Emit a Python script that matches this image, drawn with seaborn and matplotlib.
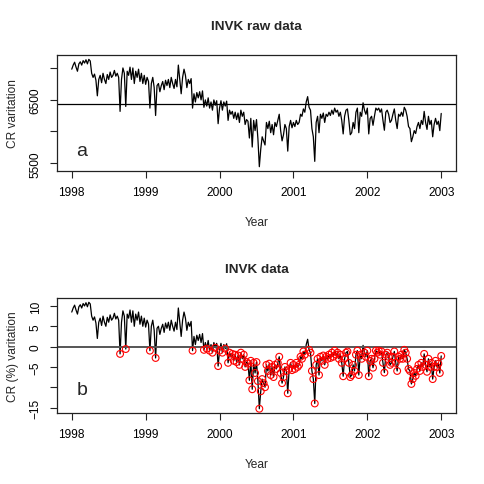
import numpy as np
import pandas as pd
import seaborn as sns
import matplotlib
matplotlib.use("Agg")
import matplotlib.pyplot as plt

# weekly CR variation (%) relative to the reference level
cr_pct_1998 = [8.5, 9.5, 10.2, 9.0, 8.0, 9.8, 10.3, 9.5, 10.6, 10.0, 10.8, 9.8, 10.9,
               10.5, 7.5, 6.5, 7.3, 5.8, 2.0, 6.0, 7.0, 5.2, 7.5, 6.0, 5.0, 7.2,
               6.0, 7.8, 6.5, 7.0, 8.2, 6.8, 7.5, 6.5, -1.8, 6.0, 8.8, 7.5, -0.6,
               8.0, 7.0, 9.0, 6.0, 8.8, 5.0, 8.0, 6.5, 8.5, 5.5, 7.5, 5.0, 7.0]
cr_pct_1999 = [4.8, 6.5, 5.5, -1.0, 5.0, 6.5, 4.0, -2.8, 4.5, 5.0, 3.0, 4.5, 5.5,
               3.5, 5.8, 4.5, 6.0, 4.0, 6.5, 5.0, 3.8, 6.0, 4.2, 9.5, 6.0, 2.5,
               6.5, 8.5, 7.0, 4.0, 6.0, 5.0, 6.2, -1.0, 2.5, 0.5, 2.8, 1.5, 3.0,
               1.0, 3.2, -0.8, 1.0, -0.5, 1.5, -1.0, 0.5, -1.5, 1.0, -0.3, 0.8, -4.8]
cr_pct_2000 = [-1.0, 0.8, -1.5, 0.5, -0.5, 0.7, -4.0, -1.5, -2.5, -1.8, -3.5, -2.0, -3.8,
               -2.2, -4.5, -1.5, -3.0, -2.0, -5.0, -3.8, -4.2, -8.3, -3.5, -10.5, -4.0, -6.5,
               -3.8, -8.5, -15.3, -11.0, -8.0, -9.0, -10.0, -4.5, -6.0, -4.2, -7.0, -5.0, -7.5,
               -4.5, -5.5, -4.0, -2.5, -6.5, -9.0, -7.5, -5.0, -6.0, -11.5, -5.5, -4.0, -5.8]
cr_pct_2001 = [-4.5, -5.5, -4.0, -5.0, -4.5, -2.5, -3.0, -1.2, -2.0, 0.5, 1.8, -0.8, -1.5,
               -6.0, -8.0, -14.0, -4.5, -3.0, -7.0, -2.5, -3.5, -2.2, -4.5, -2.5, -3.0, -2.0,
               -2.8, -1.5, -2.5, -1.0, -2.0, -1.5, -3.0, -2.0, -4.0, -7.3, -3.0, -1.5, -1.2,
               -4.0, -7.5, -7.0, -4.5, -6.0, -2.0, -1.0, -7.0, -2.0, -3.0, 0.3, -1.5, -2.5]
cr_pct_2002 = [-1.0, -7.3, -3.5, -3.0, -5.2, -3.0, -1.0, -1.5, -1.0, -2.0, -1.2, -4.0, -6.4,
               -2.0, -1.5, -2.5, -4.5, -4.0, -2.5, -1.2, -4.0, -6.0, -2.5, -3.0, -2.0, -3.0,
               -0.8, -1.5, -3.0, -5.5, -6.0, -9.2, -8.0, -6.5, -7.2, -5.5, -4.5, -6.0, -4.0,
               -5.0, -1.8, -4.5, -6.2, -3.0, -5.0, -4.0, -8.0, -5.0, -3.5, -5.0, -4.2, -6.5,
               -2.3]

ref_level = 6430   # reference CR level (horizontal line in panel a)
start_year = 1998
year_ticks = [1998, 1999, 2000, 2001, 2002, 2003]

pct = np.array(cr_pct_1998 + cr_pct_1999 + cr_pct_2000 + cr_pct_2001 + cr_pct_2002)
df = pd.DataFrame({
    "year": start_year + np.arange(len(pct)) / 52.0,
    "pct": pct,
})
df["raw"] = ref_level * (1 + df["pct"] / 100)

sns.set_theme(style="white")
plt.rcParams["font.family"] = ["Liberation Sans", "DejaVu Sans"]
LAB = 8.6

fig = plt.figure(figsize=(4.85, 4.85), dpi=100)
ax1 = fig.add_axes([0.1175, 0.6454, 0.8227, 0.239])
ax2 = fig.add_axes([0.1175, 0.1464, 0.8227, 0.237])


def r_limits(vals):
    lo, hi = np.min(vals), np.max(vals)
    pad = (hi - lo) * 0.04
    return lo - pad, hi + pad


def style_axes(ax):
    for s in ax.spines.values():
        s.set_visible(True)
        s.set_color("#222222")
        s.set_linewidth(0.9)
    ax.tick_params(axis="both", direction="out", length=5, width=0.8,
                   pad=6, labelsize=LAB, colors="#222222", labelcolor="black",
                   bottom=True, left=True)
    ax.set_xlim(1997.8, 2003.2)
    ax.set_xticks(year_ticks)
    ax.set_xticklabels([str(y) for y in year_ticks])
    plt.setp(ax.get_yticklabels(), rotation=90, va="center")
    ax.set_xlabel("Year", fontsize=LAB, labelpad=13)


# panel a: raw data
sns.lineplot(data=df, x="year", y="raw", ax=ax1, color="black", linewidth=0.9,
             estimator=None)
ax1.axhline(ref_level, color="black", linewidth=0.9)
ax1.set_ylim(*r_limits(df["raw"]))
ax1.set_yticks([5500, 6000, 6500, 7000])
ax1.set_yticklabels(["5500", "", "6500", ""])
ax1.set_ylabel("CR varitation", fontsize=LAB, labelpad=8)
ax1.set_title("INVK raw data", fontsize=9.7, fontweight="bold", pad=19)
ax1.text(1998.14, 5700, "a", fontsize=14, ha="center", va="center")
style_axes(ax1)

# panel b: percent variation, points below the reference circled
sns.lineplot(data=df, x="year", y="pct", ax=ax2, color="black", linewidth=0.9,
             estimator=None)
ax2.axhline(0, color="#555555", linewidth=1.4)
below = df[df["pct"] < 0]
sns.scatterplot(data=below, x="year", y="pct", ax=ax2, marker="o", s=24,
                facecolor="none", edgecolor="red", linewidth=0.8, zorder=3)
ax2.set_ylim(*r_limits(df["pct"]))
ax2.set_yticks([10, 5, 0, -5, -10, -15])
ax2.set_yticklabels(["10", "5", "0", "\u22125", "", "\u221215"])
ax2.set_ylabel("CR (%) varitation", fontsize=LAB, labelpad=8)
ax2.set_title("INVK data", fontsize=9.7, fontweight="bold", pad=19)
ax2.text(1998.14, -10.5, "b", fontsize=14, ha="center", va="center")
style_axes(ax2)

fig.savefig("out.png", dpi=100)
